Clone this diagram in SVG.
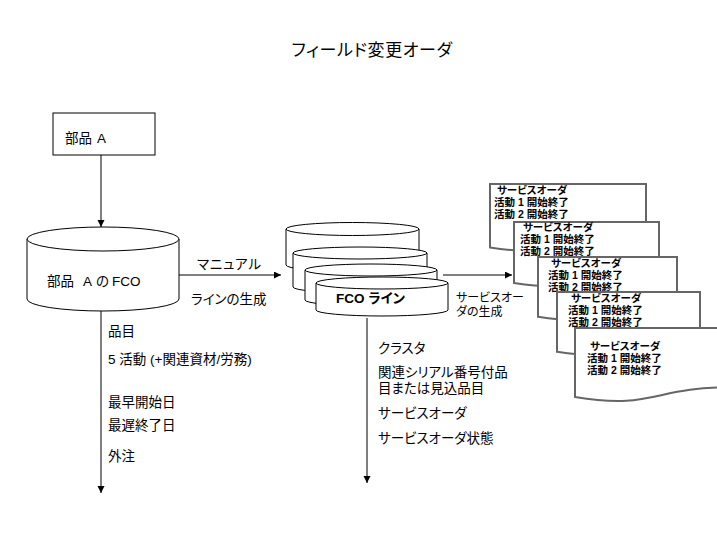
<svg xmlns="http://www.w3.org/2000/svg" width="717" height="538" viewBox="0 0 717 538">
<style>
text{font-family:"Liberation Sans","Noto Sans CJK JP",sans-serif;fill:#000;font-feature-settings:"palt";}
.t{font-size:17px;letter-spacing:0.6px;}
.m{font-size:13.5px;}
.s{font-size:12px;}
.b{font-size:13.5px;font-weight:bold;}
.d{font-size:10.5px;font-weight:bold;}
.box{fill:#fff;stroke:#000;stroke-width:1;}
.cyl{fill:#fff;stroke:#000;stroke-width:1;}
.doc{fill:#fff;stroke:#666;stroke-width:2;}
.line{fill:none;stroke:#000;stroke-width:1;}
</style>
<defs>
<marker id="ah" markerUnits="userSpaceOnUse" markerWidth="8" markerHeight="8" refX="7" refY="3.5" orient="auto">
<path d="M0,0 L7,3.5 L0,7 z" fill="#000"/>
</marker>
</defs>
<rect width="717" height="538" fill="#fff"/>
<text class="t" x="372" y="56" text-anchor="middle">フィールド変更オーダ</text>

<g id="connectors">
<line class="line" x1="101" y1="155" x2="101" y2="227" marker-end="url(#ah)"/>
<line class="line" x1="179" y1="275" x2="281" y2="275" marker-end="url(#ah)"/>
<line class="line" x1="101" y1="311" x2="101" y2="493" marker-end="url(#ah)"/>
<line class="line" x1="443" y1="275" x2="512" y2="275" marker-end="url(#ah)"/>
<line class="line" x1="367" y1="318" x2="367" y2="483" marker-end="url(#ah)"/>
<text class="m" x="197" y="269" letter-spacing="0.8">マニュアル</text>
<text class="m" x="191" y="304">ラインの生成</text>
<text class="s" x="456" y="302">サービスオー</text>
<text class="s" x="456" y="316">ダの生成</text>
</g>

<g id="partA">
<rect class="box" x="53" y="113" width="102" height="42"/>
<text class="m" x="65" y="143">部品<tspan x="97">A</tspan></text>
</g>

<g id="fcoA">
<path class="cyl" d="M27,239 V299 A76,12 0 0 0 179,299 V239"/>
<ellipse class="cyl" cx="103" cy="239" rx="76" ry="12"/>
<text class="m" x="47" y="286">部品<tspan x="83">A</tspan><tspan x="96">の</tspan><tspan x="112">FCO</tspan></text>
</g>

<g id="fcoA-notes">
<text class="m" x="108" y="336">品目</text>
<text class="m" x="108" y="364">5 活動 (+関連資材/労務)</text>
<text class="m" x="108" y="407">最早開始日</text>
<text class="m" x="108" y="430">最遅終了日</text>
<text class="m" x="108" y="461">外注</text>
</g>

<g id="fcoLines">
<path class="cyl" d="M286,229 V265 A66.5,6.5 0 0 0 419,265 V229"/>
<ellipse class="cyl" cx="352.5" cy="229" rx="66.5" ry="6.5"/>
<path class="cyl" d="M293,253 V287 A67,6 0 0 0 427,287 V253"/>
<ellipse class="cyl" cx="360" cy="253" rx="67" ry="6"/>
<path class="cyl" d="M305,270 V300 A66,6 0 0 0 437,300 V270"/>
<ellipse class="cyl" cx="371" cy="270" rx="66" ry="6"/>
<path class="cyl" d="M316,283 V310 A66,6 0 0 0 448,310 V283"/>
<ellipse class="cyl" cx="382" cy="283" rx="66" ry="6"/>
<text class="b" x="336" y="303">FCO ライン</text>
</g>

<g id="fcoLines-notes">
<text class="m" x="378" y="353">クラスタ</text>
<text class="m" x="378" y="377">関連シリアル番号付品</text>
<text class="m" x="378" y="393">目または見込品目</text>
<text class="m" x="378" y="418">サービスオーダ</text>
<text class="m" x="378" y="443">サービスオーダ状態</text>
</g>

<g id="doc1">
<path class="doc" d="M490,184 H646 V238.5 C568,238.5 568,259.3 490,247.5 Z"/>
<text class="d" x="497" y="194">サービスオーダ</text>
<text class="d" x="494" y="206">活動 1 開始終了</text>
<text class="d" x="494" y="218">活動 2 開始終了</text>
</g>
<g id="doc2">
<path class="doc" d="M514,222 H659 V274 C586.5,274 586.5,294 514,283 Z"/>
<text class="d" x="523" y="231">サービスオーダ</text>
<text class="d" x="520" y="243">活動 1 開始終了</text>
<text class="d" x="520" y="255">活動 2 開始終了</text>
</g>
<g id="doc3">
<path class="doc" d="M538,257 H677 V308.3 C607.5,308.3 607.5,327.8 538,316.8 Z"/>
<text class="d" x="551" y="267">サービスオーダ</text>
<text class="d" x="548" y="279">活動 1 開始終了</text>
<text class="d" x="548" y="291">活動 2 開始終了</text>
</g>
<g id="doc4">
<path class="doc" d="M557,292 H700 V343.3 C628.5,343.3 628.5,362.8 557,351.8 Z"/>
<text class="d" x="571" y="302">サービスオーダ</text>
<text class="d" x="568" y="314">活動 1 開始終了</text>
<text class="d" x="568" y="326">活動 2 開始終了</text>
</g>
<g id="doc5">
<path class="doc" d="M575,328 H731 V387.3 C653,387.3 653,410 575,397 Z"/>
<text class="d" x="590" y="350">サービスオーダ</text>
<text class="d" x="587" y="362">活動 1 開始終了</text>
<text class="d" x="587" y="374">活動 2 開始終了</text>
</g>
</svg>
